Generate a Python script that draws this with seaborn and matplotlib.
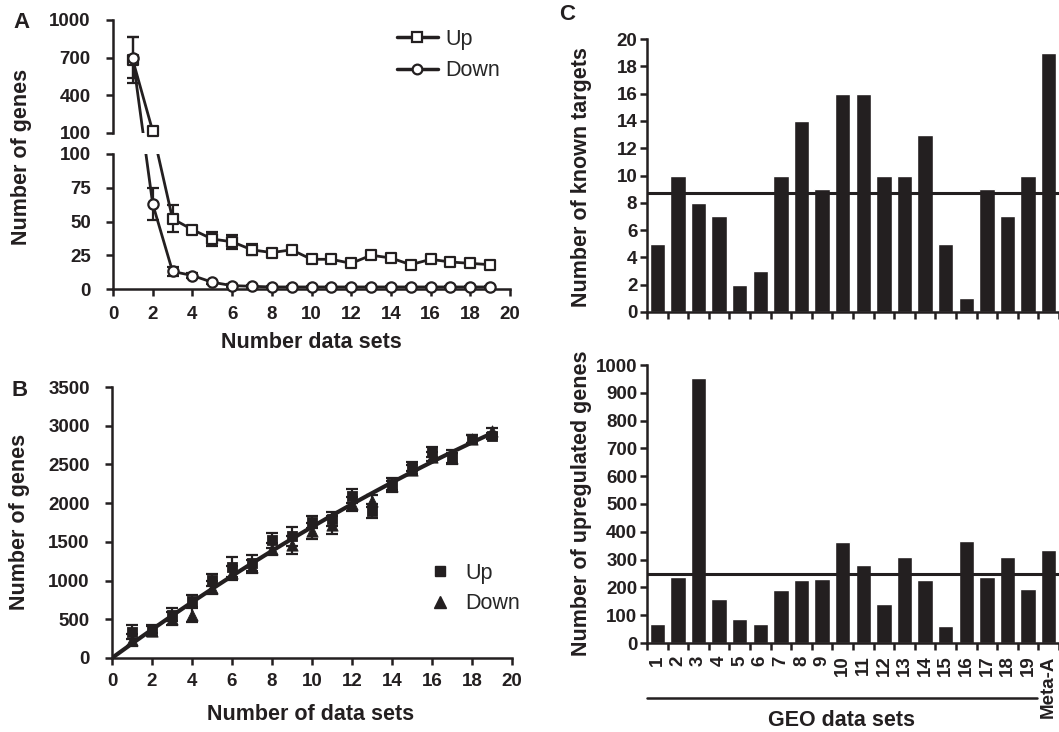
import numpy as np
import pandas as pd
import matplotlib
matplotlib.use('Agg')
import matplotlib.pyplot as plt
import matplotlib.transforms as mtransforms
from matplotlib.lines import Line2D
import seaborn as sns

# ---- data ----
# panel A: genes found in n data sets
n_sets = np.arange(1, 20)
up_a = [680, 115, 52, 44, 37, 35, 29, 27, 29, 22, 22, 19, 25, 23, 18, 22, 20, 19, 18]
up_a_err = [185, 0, 10, 3, 5, 5, 4, 3, 3, 2, 2, 2, 3, 3, 2, 2, 2, 2, 2]
down_a = [700, 63, 13, 10, 5, 2.5, 2, 1.5, 1.5, 1.5, 1.5, 1.5, 1.5, 1.5, 1.5, 1.5, 1.5, 1.5, 1.5]
down_a_err = [165, 12, 3, 2, 1, 1, 1, 0.5, 0.5, 0.5, 0.5, 0.5, 0.5, 0.5, 0.5, 0.5, 0.5, 0.5, 0.5]

# panel B: cumulative genes vs number of data sets
up_b = [330, 370, 560, 740, 1010, 1175, 1230, 1520, 1570, 1760, 1800, 2090, 1900, 2250, 2470, 2660, 2600, 2830, 2870]
up_b_err = [90, 50, 80, 80, 80, 130, 100, 100, 120, 80, 90, 90, 90, 80, 60, 60, 80, 50, 40]
down_b = [230, 350, 510, 560, 910, 1100, 1180, 1410, 1460, 1640, 1720, 1990, 2030, 2220, 2430, 2600, 2580, 2830, 2930]
down_b_err = [80, 60, 80, 90, 80, 90, 80, 80, 120, 100, 120, 90, 80, 70, 60, 60, 70, 50, 40]

# panel C
geo_labels = [str(i) for i in range(1, 20)] + ['Meta-A']
known_targets = [5, 10, 8, 7, 2, 3, 10, 14, 9, 16, 16, 10, 10, 13, 5, 1, 9, 7, 10, 19]
upregulated = [69, 236, 952, 158, 87, 69, 192, 225, 230, 363, 280, 141, 309, 225, 60, 368, 236, 311, 195, 335]

sns.set_style('ticks')
plt.rcParams['font.family'] = ['Liberation Sans', 'DejaVu Sans']
plt.rcParams['font.weight'] = 'bold'

W, H = 1059, 732
fig = plt.figure(figsize=(W / 100, H / 100), dpi=100)
ink = '#231f20'
LW = 1.8
TICK_FS = 13.5
LABEL_FS = 15.5


def style_axes(ax, ypad):
    for s in ['top', 'right']:
        ax.spines[s].set_visible(False)
    for s in ['left', 'bottom']:
        ax.spines[s].set_linewidth(LW)
        ax.spines[s].set_color(ink)
    ax.tick_params(axis='both', width=LW, length=5, labelsize=TICK_FS, colors=ink, direction='out')
    ax.tick_params(axis='y', pad=ypad)


# ---- panel A: broken y axis ----
K = 0.093   # compression of 100-1000 segment
G = 15.56   # gap between segments (display units)


def fwd(v):
    v = np.asarray(v, dtype=float)
    return np.where(v <= 100, v, 100 + G + (v - 100) * K)


def inv(d):
    d = np.asarray(d, dtype=float)
    return np.where(d <= 100, d, 100 + np.maximum(d - 100 - G, 0) / K)


TOP0 = 100.0001
hb = 135 / H
ht = hb * (fwd(1000) - fwd(TOP0)) / 100
gap = hb * G / 100
left_a, width_a = 113 / W, 397 / W
bot_a = 1 - 289 / H
axA_bot = fig.add_axes([left_a, bot_a, width_a, hb])
axA_top = fig.add_axes([left_a, bot_a + hb + gap, width_a, ht])

dfa = pd.DataFrame({'n': n_sets, 'up': up_a, 'up_err': up_a_err,
                    'down': down_a, 'down_err': down_a_err})

for ax, lo, hi in [(axA_bot, 0, 100), (axA_top, TOP0, 1000)]:
    ax.set_yscale('function', functions=(fwd, inv))
    ax.set_xlim(0, 20)
    ax.set_ylim(lo, hi)
    sns.lineplot(data=dfa, x='n', y='up', ax=ax, color=ink, lw=2, zorder=2)
    sns.lineplot(data=dfa, x='n', y='down', ax=ax, color=ink, lw=2, zorder=2)
    for col, mk in [('up', 's'), ('down', 'o')]:
        if lo > 100:
            sub = dfa[dfa[col] > 100]
        else:
            sub = dfa[dfa[col] <= 100]
        ax.errorbar(sub['n'], sub[col], yerr=sub[col + '_err'], fmt='none', ecolor=ink,
                    elinewidth=1.6, capsize=4, capthick=1.6, zorder=2, clip_on=False)
        sns.scatterplot(x=sub['n'], y=sub[col], ax=ax, marker=mk, s=55, facecolor='white',
                        edgecolor=ink, linewidth=1.6, zorder=3, clip_on=False)
    ax.set_xlabel('')
    ax.set_ylabel('')
    style_axes(ax, 11)

axA_bot.set_yticks([0, 25, 50, 75, 100])
axA_bot.set_xticks(np.arange(0, 21, 2))
axA_bot.tick_params(axis='x', pad=7)
axA_top.set_yticks([TOP0, 400, 700, 1000], ['100', '400', '700', '1000'])
axA_top.yaxis.set_minor_locator(matplotlib.ticker.NullLocator())
axA_bot.yaxis.set_minor_locator(matplotlib.ticker.NullLocator())
axA_top.spines['bottom'].set_visible(False)
axA_top.set_xticks([])

leg_handles = [Line2D([], [], color=ink, lw=2.5, marker='s', ms=7, mfc='white', mec=ink, mew=1.6),
               Line2D([], [], color=ink, lw=2.5, marker='o', ms=7, mfc='white', mec=ink, mew=1.6)]
axA_top.legend(leg_handles, ['Up', 'Down'], loc='upper left',
               bbox_to_anchor=(388 / W, 1 - 20 / H), bbox_transform=fig.transFigure,
               frameon=False, prop={'size': 15.5, 'weight': 'normal'},
               handlelength=1.9, handletextpad=0.35, labelspacing=0.5, borderaxespad=0)

# ---- panel B ----
axB = fig.add_axes([112 / W, 1 - 658 / H, 400 / W, 271 / H])
axB.errorbar(n_sets, up_b, yerr=up_b_err, fmt='none', ecolor=ink, elinewidth=1.6,
             capsize=4, capthick=1.6)
axB.errorbar(n_sets, down_b, yerr=down_b_err, fmt='none', ecolor=ink, elinewidth=1.6,
             capsize=4, capthick=1.6)
sns.scatterplot(x=n_sets, y=up_b, ax=axB, marker='s', s=55, color=ink, edgecolor=ink, zorder=3)
sns.scatterplot(x=n_sets, y=down_b, ax=axB, marker='^', s=65, color=ink, edgecolor=ink, zorder=3)
# quadratic trend through the origin, fitted on both series
all_x = np.concatenate([n_sets, n_sets]).astype(float)
all_y = np.concatenate([up_b, down_b]).astype(float)
coef, *_ = np.linalg.lstsq(np.column_stack([all_x, all_x ** 2]), all_y, rcond=None)
fit_x = np.linspace(0, n_sets.max(), 60)
fit_y = coef[0] * fit_x + coef[1] * fit_x ** 2
axB.plot(fit_x, fit_y, color=ink, lw=3, zorder=4)
axB.set_xlim(0, 20)
axB.set_ylim(0, 3500)
axB.set_xticks(np.arange(0, 21, 2))
axB.set_yticks(np.arange(0, 3501, 500))
style_axes(axB, 11)
axB.tick_params(axis='x', pad=6)
b_handles = [Line2D([], [], ls='none', marker='s', ms=7, color=ink),
             Line2D([], [], ls='none', marker='^', ms=8, color=ink)]
axB.legend(b_handles, ['Up', 'Down'], loc='upper left',
           bbox_to_anchor=(418 / W, 1 - 554 / H), bbox_transform=fig.transFigure,
           frameon=False, prop={'size': 15.5, 'weight': 'normal'},
           handlelength=1.2, handletextpad=0.6, labelspacing=0.45, borderaxespad=0)

# ---- panel C ----
axC1 = fig.add_axes([647 / W, 1 - 312 / H, 412 / W, 273 / H])
axC2 = fig.add_axes([647 / W, 1 - 643 / H, 412 / W, 278 / H])
dfc = pd.DataFrame({'geo': geo_labels, 'known': known_targets, 'up': upregulated})

sns.barplot(data=dfc, x='geo', y='known', ax=axC1, color=ink, saturation=1, width=0.75)
axC1.axhline(np.mean(known_targets[:19]), color=ink, lw=2.2, zorder=5)
axC1.set_ylim(0, 20)
axC1.set_yticks(np.arange(0, 21, 2))

sns.barplot(data=dfc, x='geo', y='up', ax=axC2, color=ink, saturation=1, width=0.75)
axC2.axhline(np.mean(upregulated[:19]), color=ink, lw=2.2, zorder=5)
axC2.set_ylim(0, 1000)
axC2.set_yticks(np.arange(0, 1001, 100))

for ax in [axC1, axC2]:
    ax.set_xlim(-0.5, len(geo_labels) - 0.5)
    ax.set_xlabel('')
    ax.set_ylabel('')
    style_axes(ax, 2)
    ax.set_xticks(np.arange(-0.5, len(geo_labels)), minor=True)
    ax.tick_params(axis='x', which='minor', width=LW, length=5, colors=ink, direction='out')
    ax.tick_params(axis='x', which='major', length=0)

axC1.set_xticklabels([])
axC2.set_xticks(range(len(geo_labels)), geo_labels, rotation=90, fontsize=TICK_FS)
axC2.tick_params(axis='x', which='major', pad=9)

# line under the GEO data sets labels
trans = mtransforms.blended_transform_factory(axC2.transData, axC2.transAxes)
axC2.plot([-0.5, 18.45], [-0.198, -0.198], transform=trans, color=ink, lw=1.8, clip_on=False)

# ---- text ----
def ftext(x, y, s, **kw):
    fig.text(x / W, 1 - y / H, s, ha='center', va='center', color=ink, **kw)


ftext(22, 157, 'Number of genes', rotation=90, fontsize=LABEL_FS)
ftext(311, 343, 'Number data sets', fontsize=LABEL_FS)
ftext(20, 522, 'Number of genes', rotation=90, fontsize=LABEL_FS)
ftext(311, 714, 'Number of data sets', fontsize=LABEL_FS)
ftext(581, 177, 'Number of known targets', rotation=90, fontsize=LABEL_FS)
ftext(581, 503, 'Number of upregulated genes', rotation=90, fontsize=LABEL_FS)
ftext(842, 720, 'GEO data sets', fontsize=LABEL_FS)
ftext(22, 22, 'A', fontsize=16)
ftext(20, 390, 'B', fontsize=16)
ftext(567, 14, 'C', fontsize=16)

fig.savefig('out.png', dpi=100)
